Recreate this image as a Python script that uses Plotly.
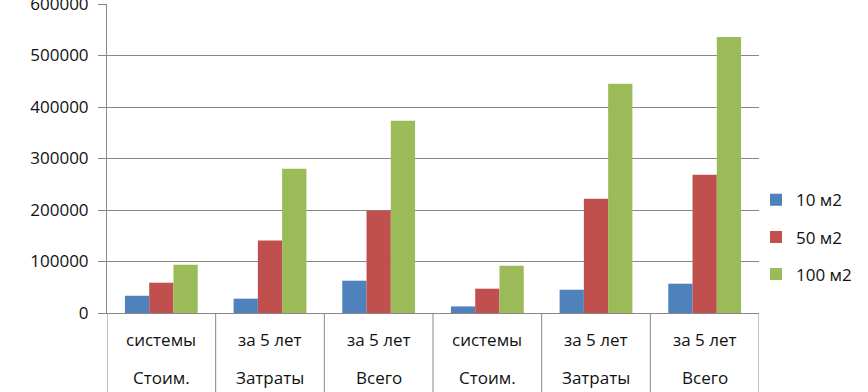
import plotly.graph_objects as go

categories = ["c1", "c2", "c3", "c4", "c5", "c6"]
label_top = ["системы", "за 5 лет", "за 5 лет", "системы", "за 5 лет", "за 5 лет"]
label_bottom = ["Стоим.", "Затраты", "Всего", "Стоим.", "Затраты", "Всего"]
series_names = ["10 м2", "50 м2", "100 м2"]
s10 = [33500, 27800, 62700, 12800, 45200, 56900]
s50 = [58800, 141000, 199200, 47200, 222000, 268500]
s100 = [93800, 280200, 373400, 91800, 445200, 536000]
colors = ["#4F81BD", "#C0504D", "#9BBB59"]
y_ticks = [0, 100000, 200000, 300000, 400000, 500000, 600000]

FONT = "Open Sans"
GRID = "#878787"

fig = go.Figure()
for name, vals, col in zip(series_names, [s10, s50, s100], colors):
    fig.add_trace(go.Bar(x=list(range(len(categories))), y=vals, name=name,
                         marker=dict(color=col, line=dict(width=0)),
                         legendgroup=name))

for i, (t, b) in enumerate(zip(label_top, label_bottom)):
    fig.add_annotation(x=i, y=-0.0864, xref="x", yref="paper", text=t,
                       showarrow=False, yanchor="middle",
                       font=dict(family=FONT, size=17, color="#111"))
    fig.add_annotation(x=i, y=-0.2084, xref="x", yref="paper", text=b,
                       showarrow=False, yanchor="middle",
                       font=dict(family=FONT, size=17, color="#111"))

for k in range(len(categories) + 1):
    fig.add_shape(type="line", xref="x", yref="paper", x0=k - 0.5, x1=k - 0.5,
                  y0=0, y1=-0.3, line=dict(color=GRID, width=1))

fig.update_layout(
    width=868, height=392,
    margin=dict(l=107, r=109, t=4, b=79, autoexpand=False),
    paper_bgcolor="white", plot_bgcolor="white",
    barmode="group", bargap=0.33, bargroupgap=0,
    font=dict(family=FONT, size=17, color="#111"),
    showlegend=True,
    legend=dict(x=0.9954, y=0.245, xanchor="left", yanchor="middle",
                font=dict(family=FONT, size=17, color="#111"),
                tracegroupgap=12, bgcolor="rgba(0,0,0,0)"),
    xaxis=dict(range=[-0.5, len(categories) - 0.5], showticklabels=False,
               showgrid=False, zeroline=False, showline=True,
               linecolor=GRID, linewidth=1, ticks="", automargin=False),
    yaxis=dict(range=[0, 600000], tickvals=y_ticks,
               ticktext=[str(v) for v in y_ticks],
               showgrid=True, gridcolor=GRID, gridwidth=1,
               zeroline=False, showline=True, linecolor=GRID, linewidth=1,
               ticks="outside", ticklen=8, tickcolor=GRID,
               ticklabelstandoff=6, automargin=False,
               ticklabeloverflow="allow",
               tickfont=dict(family=FONT, size=17, color="#111")),
)

fig.write_html("out.html", config={"displayModeBar": False},
               post_script="document.body.style.margin='0';")
